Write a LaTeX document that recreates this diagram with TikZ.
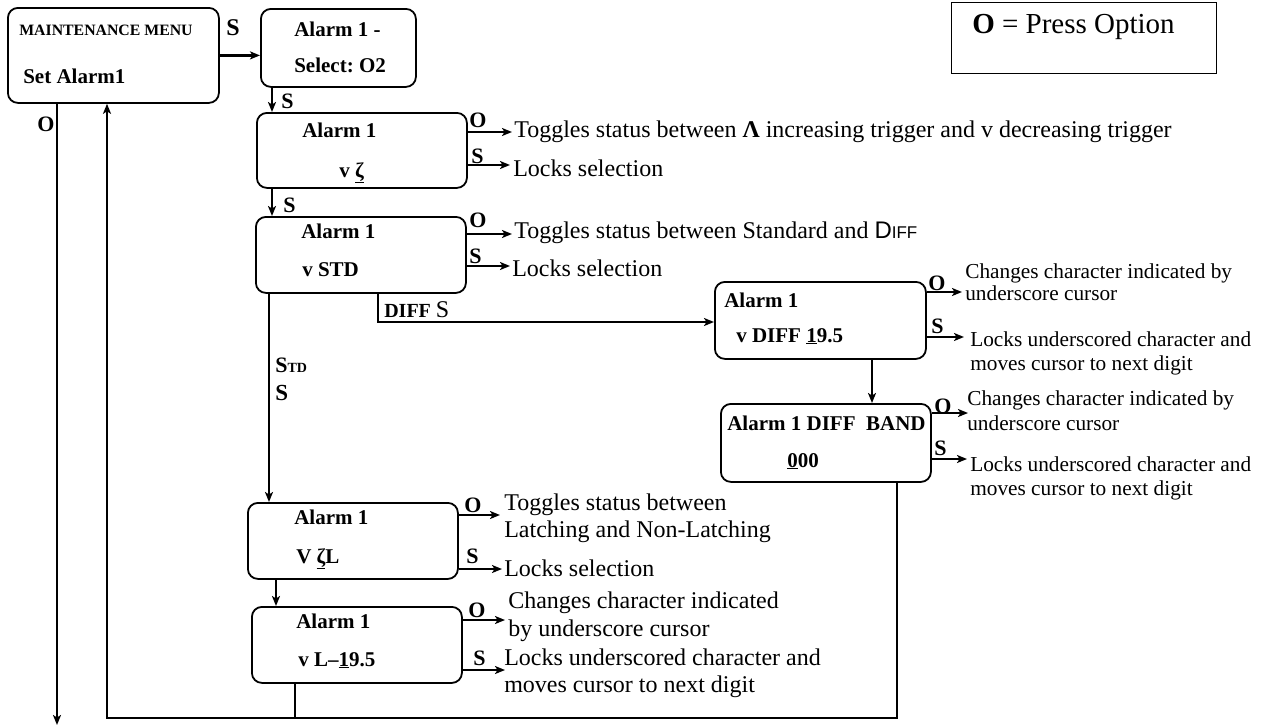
\documentclass[tikz,border=0pt]{standalone}
\usepackage{fontspec}
\setmainfont{Liberation Serif}
\newfontfamily\sansfont{Liberation Sans}
\usetikzlibrary{calc,positioning,arrows.meta}

\begin{document}
\begin{tikzpicture}[x=1pt,y=-1pt,>={Stealth[length=10pt,width=8pt,inset=2.5pt]},line width=2.6pt,
                    box/.style={draw,line width=1.8pt,rounded corners=10pt,anchor=north west,inner sep=0pt},
                    head/.style={anchor=base west,inner sep=0pt,font=\fontsize{21}{24}\selectfont\bfseries},
                    key/.style={anchor=base west,inner sep=0pt,font=\fontsize{22}{24}\selectfont\bfseries},
                    note/.style={anchor=base west,inner sep=0pt,font=\fontsize{24}{27}\selectfont},
                    small note/.style={note,font=\fontsize{21.3}{24}\selectfont}]
  \useasboundingbox (0,0) rectangle (1262,726);

  \node[box,minimum width=211,minimum height=95] (1) at (7,7) {};
  \node[box,minimum width=155,minimum height=78] (2) at (260,8) {};
  \node[box,minimum width=210,minimum height=75] (3) at (256,112) {};
  \node[box,minimum width=210,minimum height=76] (4) at (255,216) {};
  \node[box,minimum width=211,minimum height=77] (5) at (714,281) {};
  \node[box,minimum width=210,minimum height=78] (6) at (720,403) {};
  \node[box,minimum width=210,minimum height=76] (7) at (247,502) {};
  \node[box,minimum width=210,minimum height=76] (8) at (251,606) {};
  \node[draw,line width=1.2pt,anchor=north west,inner sep=0pt,minimum width=265,minimum height=71] (9) at (951,2) {};

  \node[head,font=\fontsize{15.8}{18}\selectfont\bfseries] (1a) at (18,35) {MAINTENANCE MENU};
  \node[head] (1b) at (22,83) {Set Alarm1};
  \node[head] (2a) at (293,36) {Alarm 1 -};
  \node[head] (2b) at (293,72) {Select:\ O2};
  \node[head] (3a) at (301,137) {Alarm 1};
  \node[head] (3b) at (338,177) {v \underline{ζ}};
  \node[head] (4a) at (300,238) {Alarm 1};
  \node[head] (4b) at (301,276) {v STD};
  \node[head] (5a) at (723,307) {Alarm 1};
  \node[head] (5b) at (735,342) {v DIFF \underline{1}9.5};
  \node[head] (6a) at (726,430) {Alarm 1 DIFF\ \ BAND};
  \node[head] (6b) at (786,467) {\underline{0}00};
  \node[head] (7a) at (293,524) {Alarm 1};
  \node[head] (7b) at (295,563) {V \underline{ζ}L};
  \node[head] (8a) at (295,628) {Alarm 1};
  \node[head] (8b) at (297,666) {v L–\underline{1}9.5};
  \node[note,font=\fontsize{29}{32}\selectfont] (9a) at (971,33) {\textbf{O} = Press Option};

  \node[key] (o1) at (36,131) {O};
  \node[key,font=\fontsize{24}{26}\selectfont\bfseries] (s12) at (225,35) {S};
  \node[key] (s23) at (280,108) {S};
  \node[key] (s34) at (282,212) {S};
  \node[key] (o3) at (468,127) {O};
  \node[key] (s3) at (470,163) {S};
  \node[key] (o4) at (468,227) {O};
  \node[key] (s4) at (468,263) {S};
  \node[key] (o5) at (927,290) {O};
  \node[key] (s5) at (930,333) {S};
  \node[key] (o6) at (933,413) {O};
  \node[key] (s6) at (933,455) {S};
  \node[key] (o7) at (463,512) {O};
  \node[key] (s7) at (465,563) {S};
  \node[key] (o8) at (467,617) {O};
  \node[key] (s8) at (472,665) {S};
  \node[key,font=\fontsize{20}{22}\selectfont\bfseries] (s45) at (383,317) {DIFF {\mdseries\fontsize{24}{26}\selectfont S}};
  \node[key] (s47) at (274,372) {S{\fontsize{14}{16}\selectfont TD}};
  \node[key,font=\fontsize{23}{26}\selectfont\bfseries] (s47b) at (274,400) {S};

  \node[note] (n3o) at (513,137) {Toggles status between \textbf{Λ} increasing trigger and v decreasing trigger};
  \node[note] (n3s) at (512,176) {Locks selection};
  \node[note] (n4o) at (513,238) {Toggles status between Standard and {\sansfont D{\fontsize{17}{18}\selectfont IFF}}};
  \node[note] (n4s) at (511,276) {Locks selection};
  \node[small note] (n5o) at (964,278) {Changes character indicated by};
  \node[small note] (n5p) at (964,300) {underscore cursor};
  \node[small note] (n5s) at (969,346) {Locks underscored character and};
  \node[small note] (n5t) at (969,370) {moves cursor to next digit};
  \node[small note] (n6o) at (966,405) {Changes character indicated by};
  \node[small note] (n6p) at (966,430) {underscore cursor};
  \node[small note] (n6s) at (969,471) {Locks underscored character and};
  \node[small note] (n6t) at (969,495) {moves cursor to next digit};
  \node[note] (n7o) at (503,510) {Toggles status between};
  \node[note] (n7p) at (503,537) {Latching and Non-Latching};
  \node[note] (n7s) at (503,576) {Locks selection};
  \node[note] (n8o) at (507,608) {Changes character indicated};
  \node[note] (n8p) at (507,636) {by underscore cursor};
  \node[note] (n8s) at (503,665) {Locks underscored character and};
  \node[note] (n8t) at (503,692) {moves cursor to next digit};

  \coordinate (a3o) at (512,132);
  \coordinate (a3s) at (510,165);
  \coordinate (a4o) at (512,234);
  \coordinate (a4s) at (510,266);
  \coordinate (a5o) at (962,292);
  \coordinate (a5s) at (964,337);
  \coordinate (a6o) at (968,413);
  \coordinate (a6s) at (967,459);
  \coordinate (a7o) at (500,515);
  \coordinate (a7s) at (502,569);
  \coordinate (a8o) at (505,620);
  \coordinate (a8s) at (505,670);
  \coordinate (c2) at (272,0);
  \coordinate (c3) at (272,0);
  \coordinate (c4) at (269,0);
  \coordinate (c45) at (378,322);
  \coordinate (c5) at (872,0);
  \coordinate (c7) at (276,0);
  \coordinate (r1) at (107,718);
  \coordinate (r6) at (897,718);
  \coordinate (r8) at (295,718);
  \coordinate (e1) at (57,725);

  \draw[->] (1) -- (1 -| 2.west);
  \draw[->] (c2 |- 2.south) -- (c2 |- 3.north);
  \draw[->] (c3 |- 3.south) -- (c3 |- 4.north);
  \draw[->] (c4 |- 4.south) -- (c4 |- 7.north);
  \draw[->] (c45 |- 4.south) -- (c45) -- (c45 -| 5.west);
  \draw[->] (c5 |- 5.south) -- (c5 |- 6.north);
  \draw[->] (c7 |- 7.south) -- (c7 |- 8.north);
  \draw[->] (r6 |- 6.south) -- (r6) -- (r1) -- (r1 |- 1.south);
  \draw[line width=1.6pt] (r8 |- 8.south) -- (r8);
  \draw[->] (e1 |- 1.south) -- (e1);
  \draw[->] (a3o -| 3.east) -- (a3o);
  \draw[->] (a3s -| 3.east) -- (a3s);
  \draw[->] (a4o -| 4.east) -- (a4o);
  \draw[->] (a4s -| 4.east) -- (a4s);
  \draw[->] (a5o -| 5.east) -- (a5o);
  \draw[->] (a5s -| 5.east) -- (a5s);
  \draw[->] (a6o -| 6.east) -- (a6o);
  \draw[->] (a6s -| 6.east) -- (a6s);
  \draw[->] (a7o -| 7.east) -- (a7o);
  \draw[->] (a7s -| 7.east) -- (a7s);
  \draw[->] (a8o -| 8.east) -- (a8o);
  \draw[->] (a8s -| 8.east) -- (a8s);
\end{tikzpicture}
\end{document}
